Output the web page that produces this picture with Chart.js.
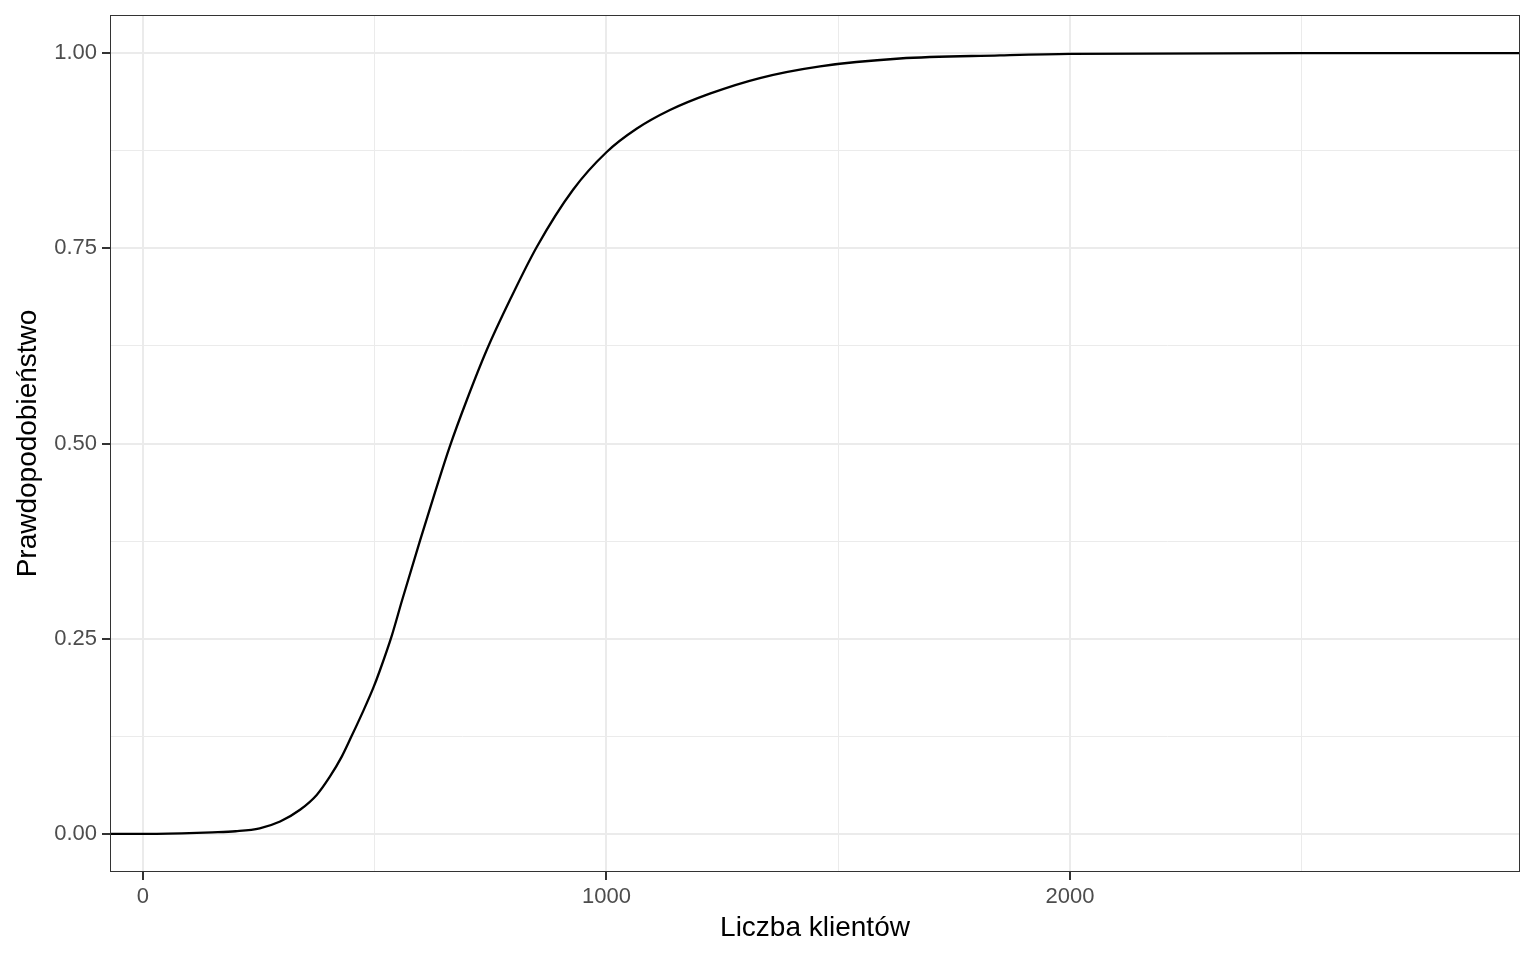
<!DOCTYPE html>
<html>
<head>
<meta charset="utf-8">
<script src="https://cdn.jsdelivr.net/npm/chart.js@4"></script>
<style>
  body { margin: 0; background: #fff; }
  #wrap { width: 1536px; height: 960px; }
</style>
</head>
<body>
<div id="wrap"><canvas id="ecdf-chart"></canvas></div>
<script>
// dane
const xValues = [-71, 0, 100, 150, 200, 252, 296, 339, 375, 403, 429, 450, 475, 497, 511, 537, 559, 598, 630, 662, 699, 742, 792, 850, 928, 1000, 1065, 1137, 1223, 1331, 1461, 1633, 1849, 2000, 2500, 2971];
const yValues = [0, 0, 0.001, 0.002, 0.0035, 0.0073, 0.016, 0.031, 0.050, 0.073, 0.099, 0.125, 0.157, 0.187, 0.209, 0.254, 0.299, 0.376, 0.437, 0.496, 0.556, 0.620, 0.684, 0.752, 0.825, 0.873, 0.903, 0.927, 0.948, 0.968, 0.983, 0.993, 0.997, 0.999, 1, 1];
const xTicks = [0, 500, 1000, 1500, 2000, 2500];
const xMajor = [0, 1000, 2000];
const yTicks = [0, 0.125, 0.25, 0.375, 0.5, 0.625, 0.75, 0.875, 1];
const yMajor = [0, 0.25, 0.5, 0.75, 1];

const font = "'Liberation Sans', Arial, sans-serif";

// ramka panelu
const panelBorder = {
    id: 'panelBorder',
    afterDatasetsDraw(chart) {
        const a = chart.chartArea;
        const c = chart.ctx;
        c.save();
        c.strokeStyle = '#333333';
        c.lineWidth = 1;
        c.strokeRect(a.left + 0.5, a.top + 0.5, a.right - a.left - 1, a.bottom - a.top - 1);
        c.restore();
    }
};

document.addEventListener('DOMContentLoaded', function() {
    const ctx = document.getElementById('ecdf-chart').getContext('2d');
    new Chart(ctx, {
        type: 'line',
        data: {
            datasets: [{
                data: xValues.map((x, i) => ({ x: x, y: yValues[i] })),
                borderColor: '#000000',
                borderWidth: 2.3,
                pointRadius: 0,
                cubicInterpolationMode: 'monotone',
                fill: false
            }]
        },
        plugins: [panelBorder],
        options: {
            responsive: true,
            maintainAspectRatio: false,
            animation: false,
            layout: { padding: { top: 15, right: 16, left: 0, bottom: 0 } },
            plugins: {
                legend: { display: false },
                tooltip: { enabled: false }
            },
            scales: {
                x: {
                    type: 'linear',
                    min: -71,
                    max: 2971,
                    afterBuildTicks: s => { s.ticks = xTicks.map(v => ({ value: v })); },
                    afterFit: s => { s.height = 88; s.paddingLeft = 0; s.paddingRight = 0; },
                    border: { display: false },
                    grid: {
                        color: '#ebebeb',
                        lineWidth: c => xMajor.includes(c.tick.value) ? 2 : 1,
                        tickColor: c => xMajor.includes(c.tick.value) ? '#333333' : 'rgba(0,0,0,0)',
                        tickWidth: 2,
                        tickLength: 8
                    },
                    ticks: {
                        autoSkip: false,
                        maxRotation: 0,
                        padding: 4,
                        color: '#4d4d4d',
                        font: { family: font, size: 22 },
                        callback: v => xMajor.includes(v) ? String(v) : ''
                    },
                    title: {
                        display: true,
                        text: 'Liczba klientów',
                        color: '#000000',
                        font: { family: font, size: 28 },
                        padding: { top: 0, bottom: 15 }
                    }
                },
                y: {
                    type: 'linear',
                    min: -0.0487,
                    max: 1.0487,
                    afterBuildTicks: s => { s.ticks = yTicks.map(v => ({ value: v })); },
                    afterFit: s => { s.width = 110; s.paddingTop = 0; s.paddingBottom = 0; },
                    border: { display: false },
                    grid: {
                        color: '#ebebeb',
                        lineWidth: c => yMajor.includes(c.tick.value) ? 2 : 1,
                        tickColor: c => yMajor.includes(c.tick.value) ? '#333333' : 'rgba(0,0,0,0)',
                        tickWidth: 2,
                        tickLength: 8
                    },
                    ticks: {
                        autoSkip: false,
                        padding: 5,
                        color: '#4d4d4d',
                        font: { family: font, size: 22 },
                        callback: v => yMajor.includes(v) ? v.toFixed(2) : ''
                    },
                    title: {
                        display: true,
                        text: 'Prawdopodobieństwo',
                        color: '#000000',
                        font: { family: font, size: 28 },
                        padding: { top: 11, bottom: 0 }
                    }
                }
            }
        }
    });
});
</script>
</body>
</html>
